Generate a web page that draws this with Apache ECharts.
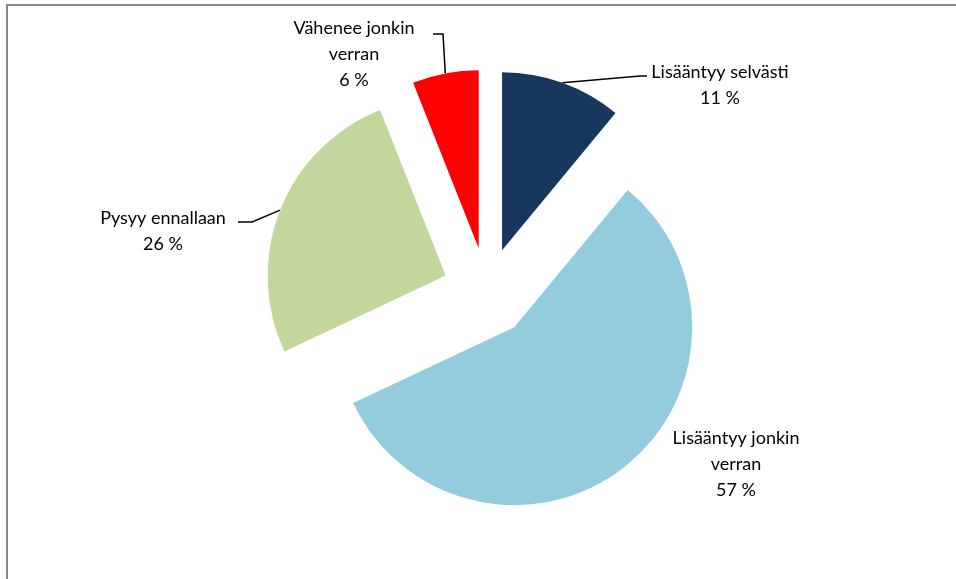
<!DOCTYPE html>
<html>
<head>
<meta charset="utf-8">
<script src="https://cdn.jsdelivr.net/npm/echarts@6/dist/echarts.min.js"></script>
<style>
html,body{margin:0;padding:0;background:#fff;}
#main{width:956px;height:579px;}
</style>
</head>
<body>
<div id="main"></div>
<script>
// luokat ja arvot
var categories = ['Lisääntyy selvästi', 'Lisääntyy jonkin\nverran', 'Pysyy ennallaan', 'Vähenee jonkin\nverran'];
var values = [11, 57, 26, 6];
var colors = ['#17375E', '#93CDDD', '#C3D69B', '#FF0000'];

var CX = 487, CY = 292, R = 178, EXPLODE = 44.5;

// tekstien paikat (x, y = tekstilohkon keskipiste), viivan taite ja pää
var labelPos = [
    {x: 720, y: 85, line: [[640, 76], [647, 76]]},
    {x: 736, y: 464, line: null},
    {x: 163, y: 231, line: [[252, 222], [238, 222]]},
    {x: 354, y: 54, line: [[443, 34], [433, 34]]}
];

var chart = echarts.init(document.getElementById('main'));

var total = 0;
for (var k = 0; k < values.length; k++) total += values[k];

// jokainen sektori omana sarjanaan, keskipiste siirretty ulospäin
var series = [];
var cum = 0;
for (var i = 0; i < values.length; i++) {
    var mid = (cum + values[i] / 2) / total * Math.PI * 2;
    cum += values[i];
    var data = [];
    for (var j = 0; j < values.length; j++) {
        var own = (j === i);
        data.push({
            name: categories[j],
            value: values[j],
            itemStyle: {color: own ? colors[j] : 'rgba(0,0,0,0)'},
            label: {show: own},
            labelLine: {show: own && !!labelPos[j].line}
        });
    }
    series.push({
        type: 'pie',
        center: [CX + EXPLODE * Math.sin(mid), CY - EXPLODE * Math.cos(mid)],
        radius: [0, R],
        startAngle: 90,
        clockwise: true,
        avoidLabelOverlap: false,
        emphasis: {disabled: true},
        silent: true,
        data: data,
        label: {
            position: 'outside',
            formatter: '{b}\n{c} %',
            fontFamily: 'Lato',
            fontSize: 18,
            lineHeight: 26,
            color: '#000',
            align: 'center'
        },
        labelLine: {
            length: 20,
            length2: 10,
            lineStyle: {color: '#000', width: 1.5}
        },
        labelLayout: function (params) {
            var p = labelPos[params.dataIndex];
            var res = {
                x: p.x,
                y: p.y,
                align: 'center',
                verticalAlign: 'middle'
            };
            if (p.line && params.labelLinePoints) {
                res.labelLinePoints = [params.labelLinePoints[0], p.line[0], p.line[1]];
            }
            return res;
        }
    });
}

var option = {
    animation: false,
    backgroundColor: '#fff',
    graphic: [{
        type: 'rect',
        shape: {x: 7, y: 5, width: 1200, height: 1200},
        style: {fill: 'none', stroke: '#8a8a8a', lineWidth: 2},
        silent: true
    }],
    series: series
};
chart.setOption(option);
</script>
</body>
</html>
